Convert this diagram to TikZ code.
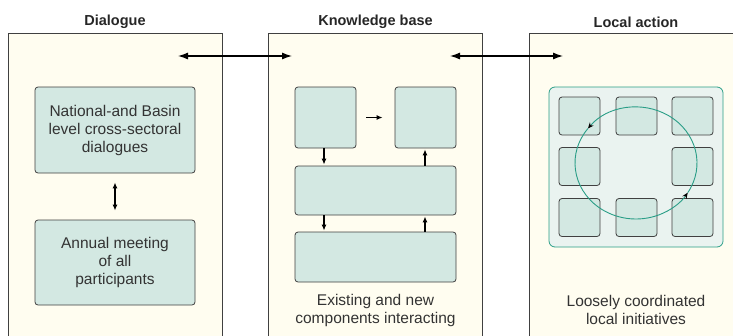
\documentclass[tikz,border=0pt]{standalone}
\usepackage{fontspec}
\setmainfont{Liberation Sans}
\usepackage{tikz}
\usetikzlibrary{arrows.meta,positioning}
\definecolor{panelfill}{HTML}{FFFDF0}
\definecolor{boxfill}{HTML}{D3E8E2}
\definecolor{groupfill}{HTML}{EAF3F0}
\definecolor{loopteal}{HTML}{2A9E87}
\colorlet{edgegray}{black!75}
\tikzset{
  panel/.style={draw=edgegray,fill=panelfill,line width=0.8pt,minimum width=214pt,minimum height=312pt,inner sep=0pt},
  paneltitle/.style={font=\fontsize{14.5}{17}\selectfont\bfseries,text=black!85},
  tealbox/.style={draw=edgegray,fill=boxfill,line width=0.8pt,rounded corners=3pt,inner sep=0pt},
  boxtext/.style={align=center,font=\fontsize{15.5}{18}\selectfont,text=black!80},
  smallbox/.style={tealbox,minimum width=41pt,minimum height=38pt},
  flow/.style={-{Latex[length=6pt,width=5pt]},line width=1.3pt}
}
\newcommand{\initiative}[3]{%
  \node[smallbox] (#1) at (#2,#3) {};}

\begin{document}
\begin{tikzpicture}[x=1pt,y=-1pt]
\clip (0,0) rectangle (733,335);
% three panels
\node[panel] (dialogue) at (115,189) {};
\node[panel] (knowledge) at (375.5,189) {};
\node[panel] (local) at (636,189) {};
\node[paneltitle] (t1) at (115,22) {Dialogue};
\node[paneltitle] (t2) at (375.5,22) {Knowledge base};
\node[paneltitle] (t3) at (636,22) {Local action};
% links between the panels
\coordinate (dk1) at (178,56); \coordinate (dk2) at (292,56);
\coordinate (kl1) at (450,56); \coordinate (kl2) at (563,56);
\draw[{Latex[length=10pt,width=7pt]}-{Latex[length=10pt,width=7pt]},line width=1.2pt] (dk1) -- (dk2);
\draw[{Latex[length=10pt,width=7pt]}-{Latex[length=10pt,width=7pt]},line width=1.2pt] (kl1) -- (kl2);
% dialogue
\node[tealbox,boxtext,minimum width=160pt,minimum height=86pt] (national) at (115,130)
  {National-and Basin\\level cross-sectoral\\dialogues};
\node[tealbox,boxtext,minimum width=160pt,minimum height=85pt] (annual) at (115,262.5)
  {Annual meeting\\of all\\participants};
\draw[{Latex[length=6pt,width=5pt]}-{Latex[length=6pt,width=5pt]},line width=1.3pt,shorten <=9pt,shorten >=9pt] (national) -- (annual);
% knowledge base
\node[tealbox,minimum width=61pt,minimum height=61pt] (kA) at (325.5,117.5) {};
\node[tealbox,minimum width=61pt,minimum height=61pt] (kB) at (425.5,117.5) {};
\node[tealbox,minimum width=161pt,minimum height=49pt] (kC) at (375.5,190.5) {};
\node[tealbox,minimum width=161pt,minimum height=50pt] (kD) at (375.5,257) {};
\draw[flow,shorten <=10pt,shorten >=12pt] (kA) -- (kB);
\draw[flow,shorten >=1pt] (kA.south -| 324,0) -- (kC.north -| 324,0);
\draw[flow,shorten >=1pt] (kC.north -| 425,0) -- (kB.south -| 425,0);
\draw[flow,shorten >=1pt] (kC.south -| 324,0) -- (kD.north -| 324,0);
\draw[flow,shorten >=1pt] (kD.north -| 425,0) -- (kC.south -| 425,0);
\node[boxtext] (kbtext) at (375.5,310) {Existing and new\\components interacting};
% local action
\node[draw=loopteal,fill=groupfill,line width=0.8pt,rounded corners=6pt,minimum width=174pt,minimum height=160pt] (group) at (636,167) {};
\initiative{i11}{579.5}{116}
\initiative{i12}{636.5}{116}
\initiative{i13}{692.5}{116}
\initiative{i21}{579.5}{166.5}
\initiative{i23}{692.5}{166.5}
\initiative{i31}{579.5}{217.5}
\initiative{i32}{636.5}{217.5}
\initiative{i33}{692.5}{217.5}
\coordinate (loop) at (636,163);
\draw[loopteal,line width=0.9pt,-{Stealth[length=6pt,width=5pt,black]}] (loop) ++(32:61 and 56)
  arc[start angle=32,end angle=-142,x radius=61,y radius=56];
\draw[loopteal,line width=0.9pt,-{Stealth[length=6pt,width=5pt,black]}] (loop) ++(-142:61 and 56)
  arc[start angle=-142,end angle=-328,x radius=61,y radius=56];
\node[boxtext] (latext) at (636,310) {Loosely coordinated\\local initiatives};
\end{tikzpicture}
\end{document}
